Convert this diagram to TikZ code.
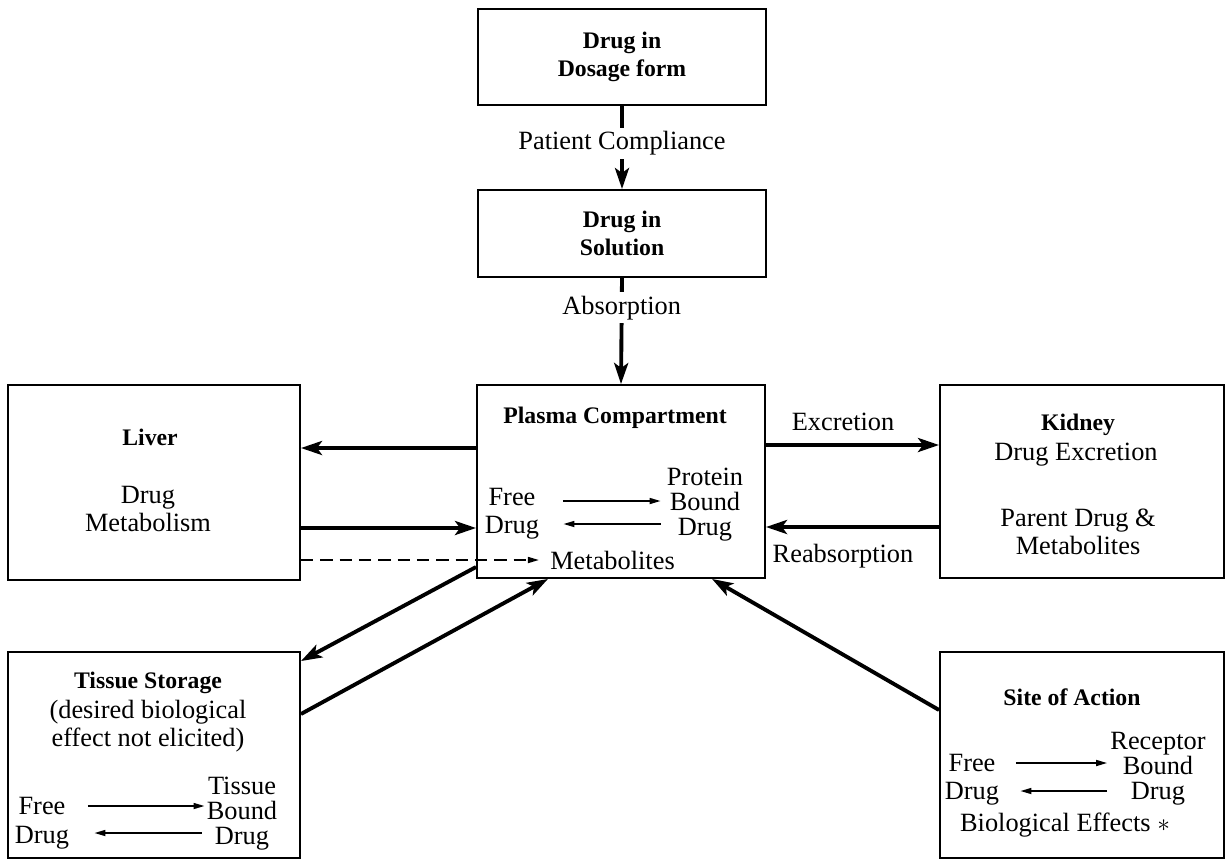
\documentclass[tikz,border=0pt]{standalone}
\usepackage{fontspec}
\setmainfont{Liberation Serif}
\usetikzlibrary{arrows.meta}

\begin{document}
\begin{tikzpicture}[
    every node/.style={font=\fontsize{15}{16}\selectfont},
    box/.style={draw, line width=1.1pt, inner sep=0pt, align=center},
    txt/.style={inner sep=0pt, align=center},
    col/.style={txt, font=\fontsize{15}{14.2}\selectfont},
    head/.style={txt, font=\fontsize{13.5}{16}\selectfont\bfseries},
    flow/.style={line width=2.2pt, -{Stealth[length=0.42cm,width=0.28cm,inset=0.1cm]}},
    eq/.style={line width=0.9pt, -{Stealth[length=0.22cm,width=0.12cm,inset=0pt]}},
    cut/.style={fill=white, inner sep=2pt}
]
    \useasboundingbox (0,0) rectangle (24.52,-17.20);

    %Top Boxes
    \node[box, font=\fontsize{13.5}{16}\selectfont\bfseries, minimum width=5.76cm, minimum height=1.92cm] (dosage) at (12.44,-1.14) {Drug in\\Dosage form};
    \node[box, font=\fontsize{13.5}{16}\selectfont\bfseries, minimum width=5.76cm, minimum height=1.74cm] (solution) at (12.44,-4.67) {Drug in\\Solution};

    %Plasma Box
    \node[box, minimum width=5.76cm, minimum height=3.86cm] (plasma) at (12.42,-9.63) {};
    \node[head] (plasmaT) at (12.30,-8.36) {Plasma Compartment};
    \node[txt] (pfree) at (10.24,-9.94) {Free};
    \node[txt] (pdrug) at (10.24,-10.56) {Drug};
    \node[col] (pcol) at (14.10,-10.10) {Protein\\Bound\\Drug};
    \node[txt] (metab) at (12.25,-11.20) {Metabolites};

    %Liver Box
    \node[box, minimum width=5.84cm, minimum height=3.90cm] (liver) at (3.08,-9.65) {};
    \node[head] (liverT) at (3.00,-8.74) {Liver};
    \node[txt] (liverM) at (2.96,-10.18) {Drug\\Metabolism};

    %Kidney Box
    \node[box, minimum width=5.68cm, minimum height=3.86cm] (kidney) at (21.64,-9.63) {};
    \node[head] (kidneyT) at (21.56,-8.50) {Kidney};
    \node[txt] (kidneyE) at (21.52,-9.10) {Drug Excretion};
    \node[txt] (kidneyP) at (21.56,-10.64) {Parent Drug \&\\Metabolites};

    %Tissue Box
    \node[box, minimum width=5.84cm, minimum height=4.12cm] (tissue) at (3.08,-15.10) {};
    \node[head] (tissueT) at (2.96,-13.66) {Tissue Storage};
    \node[txt] (tissueD) at (2.96,-14.52) {(desired biological\\effect not elicited)};
    \node[txt] (tfree) at (0.84,-16.12) {Free};
    \node[txt] (tdrug) at (0.84,-16.76) {Drug};
    \node[col] (tcol) at (4.84,-16.27) {Tissue\\Bound\\Drug};

    %Site of Action Box
    \node[box, minimum width=5.68cm, minimum height=4.12cm] (site) at (21.64,-15.10) {};
    \node[head] (siteT) at (21.44,-13.94) {Site of Action};
    \node[txt] (sfree) at (19.44,-15.26) {Free};
    \node[txt] (sdrug) at (19.44,-15.88) {Drug};
    \node[col] (scol) at (23.16,-15.38) {Receptor\\Bound\\Drug};
    \node[txt] (sbio) at (21.30,-16.50) {Biological Effects $\ast$};

    %Flow down
    \draw[flow] (dosage.south) -- (solution.north) node[cut, pos=0.45] {Patient Compliance};
    \draw[flow] (solution.south) -- (plasma.north) node[cut, pos=0.28] {Absorption};

    %Liver arrows
    \draw[flow] (plasma.west |- 0,-8.96) -- (liver.east |- 0,-8.96);
    \draw[flow] (liver.east |- 0,-10.56) -- (plasma.west |- 0,-10.56);
    \draw[eq, dash pattern=on 7pt off 4pt, shorten >=0.22cm] (liver.east |- metab) -- (metab.west);

    %Kidney arrows
    \draw[flow] (plasma.east |- 0,-8.90) -- (kidney.west |- 0,-8.90);
    \draw[flow] (kidney.west |- 0,-10.54) -- (plasma.east |- 0,-10.54);
    \node[txt] (excr) at (16.86,-8.44) {Excretion};
    \node[txt] (reabs) at (16.86,-11.12) {Reabsorption};

    %Tissue and Site arrows
    \draw[flow] (plasma.west |- 0,-11.34) -- ([yshift=-0.2cm]tissue.north east);
    \draw[flow] (tissue.east |- 0,-14.28) -- (plasma.south -| 10.96,0);
    \draw[flow] (site.west |- 0,-14.20) -- (plasma.south -| 14.24,0);

    %Binding arrows
    \draw[eq, shorten <=0.54cm, shorten >=0.12cm] ([yshift=-0.08cm]pfree.east) -- ([yshift=-0.08cm]pfree.east -| pcol.west);
    \draw[eq, shorten <=0.12cm, shorten >=0.48cm] ([yshift=0.08cm]pdrug.east -| pcol.west) -- ([yshift=0.08cm]pdrug.east);
    \draw[eq, shorten <=0.44cm, shorten >=0.04cm] (tfree.east) -- (tfree.east -| tcol.west);
    \draw[eq, shorten <=0.10cm, shorten >=0.50cm] ([yshift=0.1cm]tdrug.east -| tcol.west) -- ([yshift=0.1cm]tdrug.east);
    \draw[eq, shorten <=0.40cm, shorten >=0.06cm] (sfree.east) -- (sfree.east -| scol.west);
    \draw[eq, shorten <=0.06cm, shorten >=0.42cm] ([yshift=0.06cm]sdrug.east -| scol.west) -- ([yshift=0.06cm]sdrug.east);
\end{tikzpicture}
\end{document}
